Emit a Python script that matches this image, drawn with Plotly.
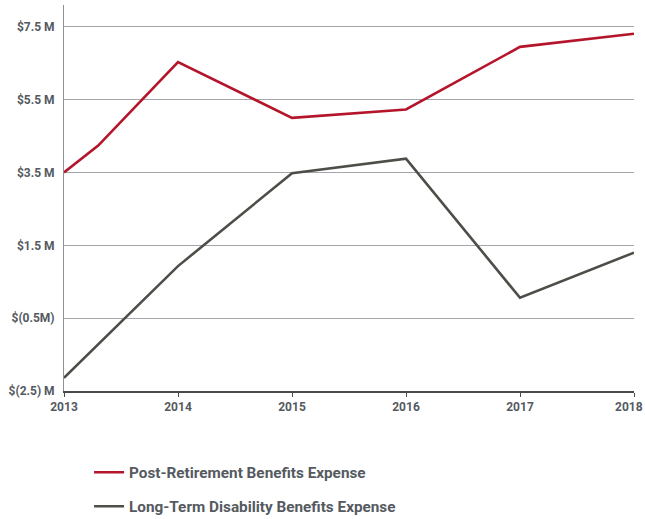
import plotly.graph_objects as go

# Expense series (millions of dollars)
post_ret_years = [2013, 2013.3, 2014, 2015, 2016, 2017, 2018]
post_ret_values = [3.5, 4.24, 6.53, 5.0, 5.23, 6.95, 7.31]

ltd_years = [2013, 2014, 2015, 2016, 2017, 2018]
ltd_values = [-2.14, 0.93, 3.48, 3.88, 0.06, 1.3]

year_ticks = [2013, 2014, 2015, 2016, 2017, 2018]
year_labels = ["2013", "2014", "2015", "2016", "2017", "2018"]
y_tick_vals = [7.5, 5.5, 3.5, 1.5, -0.5, -2.5]
y_tick_text = ["$7.5 M", "$5.5 M", "$3.5 M", "$1.5 M", "$(0.5M)", "$(2.5) M"]

RED = "#b5152b"
DARK = "#4e4e49"
TEXT = "#555a5f"
FONT = "Roboto"
TICK_FONT = dict(family=FONT, size=12, color=TEXT, weight="bold")

fig = go.Figure()
fig.add_trace(go.Scatter(
    x=post_ret_years, y=post_ret_values, mode="lines",
    name="Post-Retirement Benefits Expense",
    line=dict(color=RED, width=2.6), legendgroup="a",
))
fig.add_trace(go.Scatter(
    x=ltd_years, y=ltd_values, mode="lines",
    name="Long-Term Disability Benefits Expense",
    line=dict(color=DARK, width=2.6), legendgroup="b",
))

# the last year label sits at the right edge, so it is nudged inward
# and drawn as an annotation anchored to its tick
fig.add_annotation(
    x=year_ticks[-1], y=0, xref="x", yref="paper",
    text=year_labels[-1], showarrow=False,
    xanchor="center", yanchor="top", xshift=-5, yshift=-7,
    font=TICK_FONT,
)

fig.update_layout(
    width=645, height=519,
    margin=dict(l=64, r=11, t=5, b=128, autoexpand=False),
    paper_bgcolor="white", plot_bgcolor="white",
    font=dict(family=FONT, color=TEXT),
    showlegend=True,
    legend=dict(
        orientation="v", x=0.044, xanchor="left", y=-0.168, yanchor="top",
        font=dict(family=FONT, size=15.3, color=TEXT, weight="bold"),
        tracegroupgap=11, bgcolor="rgba(0,0,0,0)",
    ),
    xaxis=dict(
        range=[2013, 2018], tickvals=year_ticks,
        ticktext=year_labels[:-1] + [""],
        showgrid=False, zeroline=False,
        showline=True, linecolor="#4a4a4a", linewidth=1.5,
        ticks="outside", ticklen=4, tickcolor="#4a4a4a", tickwidth=1,
        tickfont=TICK_FONT,
    ),
    yaxis=dict(
        range=[-2.5, 8.1], tickvals=y_tick_vals, ticktext=y_tick_text,
        showgrid=True, gridcolor="#a3a6aa", gridwidth=1,
        zeroline=False, showline=True, linecolor="#8f9296", linewidth=1,
        ticks="", ticklabelstandoff=6,
        tickfont=TICK_FONT,
    ),
)

fig.write_html("out.html")
